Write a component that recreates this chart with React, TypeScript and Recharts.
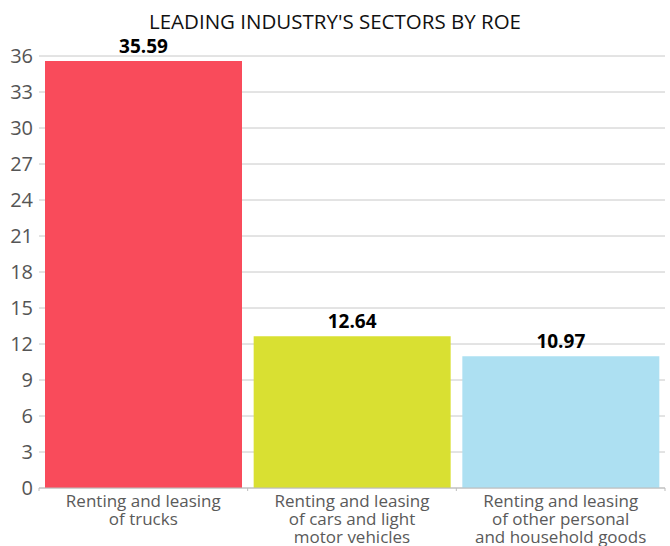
import { BarChart, Bar, Cell, XAxis, YAxis, CartesianGrid, LabelList } from "recharts";

// Sector labels (line breaks as in the source)
const SECTORS = [
  "Renting and leasing\nof trucks",
  "Renting and leasing\nof cars and light\nmotor vehicles",
  "Renting and leasing\nof other personal\nand household goods",
];
const ROE = [35.59, 12.64, 10.97];
const BAR_COLORS = ["#F94B5B", "#D9E032", "#ADE0F2"];
const Y_TICKS = [0, 3, 6, 9, 12, 15, 18, 21, 24, 27, 30, 33, 36];

const FONT = "'Open Sans', 'Noto Sans', sans-serif";

const data = SECTORS.map((name, i) => ({ name, value: ROE[i], idx: i }));

// category label plus small tick marks at the band edges
function SectorTick(props: any) {
  const { x, y, payload, width, visibleTicksCount, index } = props;
  const half = width / visibleTicksCount / 2;
  const lines = String(payload.value).split("\n");
  return (
    <g>
      <line x1={x - half} x2={x - half} y1={y} y2={y + 3} stroke="#bdbdbd" />
      {index === visibleTicksCount - 1 && (
        <line x1={x + half} x2={x + half} y1={y} y2={y + 3} stroke="#bdbdbd" />
      )}
      <text x={x} y={y} textAnchor="middle" fill="#5a5a5a" fontSize={17} fontFamily={FONT}>
        {lines.map((line, i) => (
          <tspan key={i} x={x} dy={i === 0 ? 19 : 18}>
            {line}
          </tspan>
        ))}
      </text>
    </g>
  );
}

export default function App() {
  return (
    <div style={{ position: "absolute", left: 0, top: 0, width: 670, height: 546, background: "#fff" }}>
      <div
        style={{
          position: "absolute",
          top: 7,
          left: 0,
          width: 670,
          textAlign: "center",
          fontFamily: FONT,
          fontSize: 20.5,
          lineHeight: "28px",
          color: "#111",
        }}
      >
        LEADING INDUSTRY'S SECTORS BY ROE
      </div>
      <BarChart
        width={670}
        height={546}
        data={data}
        margin={{ top: 56, right: 5, bottom: 0, left: 0 }}
        barCategoryGap={6}
      >
        <CartesianGrid vertical={false} stroke="#c8c8c8" />
        <XAxis
          dataKey="name"
          height={58}
          interval={0}
          axisLine={{ stroke: "#bdbdbd" }}
          tickLine={false}
          tickSize={0}
          tickMargin={0}
          tick={<SectorTick />}
        />
        <YAxis
          width={39}
          domain={[0, 36]}
          ticks={Y_TICKS}
          interval={0}
          axisLine={false}
          tickLine={false}
          tickSize={4}
          tickMargin={2}
          tick={{ fontSize: 20, fill: "#555", fontFamily: FONT }}
        />
        <Bar dataKey="value" isAnimationActive={false}>
          {data.map((d) => (
            <Cell key={d.idx} fill={BAR_COLORS[d.idx]} />
          ))}
          <LabelList
            dataKey="value"
            position="top"
            offset={8}
            fill="#000"
            fontSize={19}
            fontWeight="bold"
            fontFamily={FONT}
            formatter={(v: any) => Number(v).toFixed(2)}
          />
        </Bar>
      </BarChart>
    </div>
  );
}
